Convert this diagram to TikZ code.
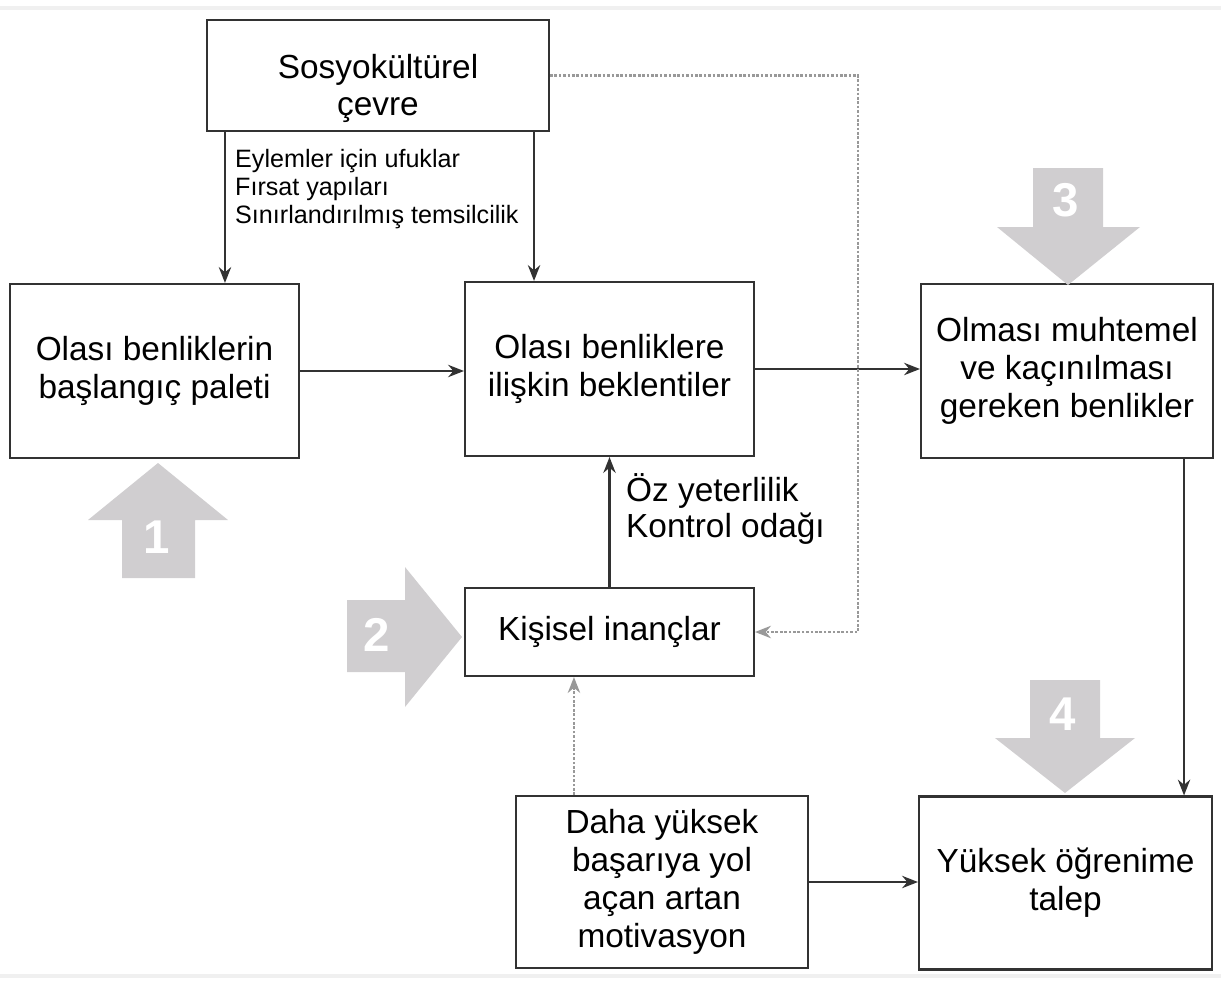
\documentclass[tikz,border=0pt]{standalone}
\usepackage{fontspec}
\setmainfont{Liberation Sans}
\usetikzlibrary{arrows.meta}
\definecolor{okgri}{RGB}{208,206,208}
\definecolor{kenar}{RGB}{50,50,50}
\tikzset{
	kutu/.style={draw=kenar,line width=1.2pt,align=center,font=\fontsize{19}{21.5}\selectfont},
	yazi/.style={anchor=west,align=left},
	okok/.style={->,line width=1.3pt,draw=kenar},
	noktali/.style={->,densely dotted,line width=1.5pt,draw=gray!80},
	sayi/.style={text=white,font=\fontsize{27}{30}\selectfont\bfseries}
}
\begin{document}
\begin{tikzpicture}[>={Stealth[length=9pt,width=7pt]},x=0.02cm,y=-0.02cm]
				\useasboundingbox (0,0) rectangle (1221,981);
				\draw[gray!12,line width=2pt] (0,8) -- (1221,8) (0,976) -- (1221,976);
				% kutular
				\node[kutu,minimum width=6.84cm,minimum height=2.22cm] (sosyo) at (378,75.5) {\rule{0pt}{1.0cm}Sosyokültürel\\çevre};
				\node[kutu,minimum width=5.78cm,minimum height=3.48cm] (palet) at (154.5,371) {Olası benliklerin\\başlangıç paleti};
				\node[kutu,minimum width=5.78cm,minimum height=3.48cm] (beklenti) at (609.5,369) {Olası benliklere\\ilişkin beklentiler};
				\node[kutu,minimum width=5.84cm,minimum height=3.48cm] (olmasi) at (1067,371) {Olması muhtemel\\ve kaçınılması\\gereken benlikler};
				\node[kutu,minimum width=5.78cm,minimum height=1.76cm] (kisisel) at (609.5,632) {Kişisel inançlar};
				\node[kutu,minimum width=5.84cm,minimum height=3.44cm] (daha) at (662,882) {Daha yüksek\\başarıya yol\\açan artan\\motivasyon};
				\node[kutu,minimum width=5.86cm,minimum height=3.46cm] (yuksek) at (1065.5,883) {Yüksek öğrenime\\talep};
				% etiketler
				\node[yazi,font=\fontsize{14.3}{16}\selectfont] (ufuk) at (229,189) {Eylemler için ufuklar\\Fırsat yapıları\\Sınırlandırılmış temsilcilik};
				\node[yazi,font=\fontsize{19}{20.5}\selectfont] (oz) at (620,509) {Öz yeterlilik\\Kontrol odağı};
				% oklar
				\draw[okok] ([xshift=0.38cm]sosyo.south west) -- ([xshift=0.38cm]sosyo.south west |- palet.north);
				\draw[okok] ([xshift=-0.32cm]sosyo.south east) -- ([xshift=-0.32cm]sosyo.south east |- beklenti.north);
				\draw[okok] (palet.east) -- (palet.east -| beklenti.west);
				\draw[okok] (beklenti.east) -- (beklenti.east -| olmasi.west);
				\draw[okok] (kisisel.north) -- (beklenti.south);
				\draw[okok] ([xshift=-0.6cm]olmasi.south east) -- ([xshift=-0.6cm]olmasi.south east |- yuksek.north);
				\draw[okok] (daha.east) -- (daha.east -| yuksek.west);
				\coordinate (donus) at (858,300);
				\draw[noktali] (sosyo.east) -- (sosyo.east -| donus) |- (kisisel.east);
				\draw[noktali] ([xshift=1.18cm]daha.north west) -- ([xshift=1.18cm]daha.north west |- kisisel.south);
				% buyuk gri oklar
				\fill[okgri] (122,578) -- (122,520) -- (88,520) -- (158,463) -- (228,520) -- (195,520) -- (195,578) -- cycle;
				\fill[okgri] (347,600) -- (405,600) -- (405,567) -- (462,637) -- (405,707) -- (405,672) -- (347,672) -- cycle;
				\fill[okgri] (1033,168) -- (1103,168) -- (1103,227) -- (1140,227) -- (1068,285) -- (997,227) -- (1033,227) -- cycle;
				\fill[okgri] (1030,680) -- (1100,680) -- (1100,738) -- (1135,738) -- (1065,793) -- (995,738) -- (1030,738) -- cycle;
				\node[sayi] (s1) at (157,537) {1};
				\node[sayi] (s2) at (377,635) {2};
				\node[sayi] (s3) at (1066,200) {3};
				\node[sayi] (s4) at (1063,714) {4};
			\end{tikzpicture}
\end{document}
